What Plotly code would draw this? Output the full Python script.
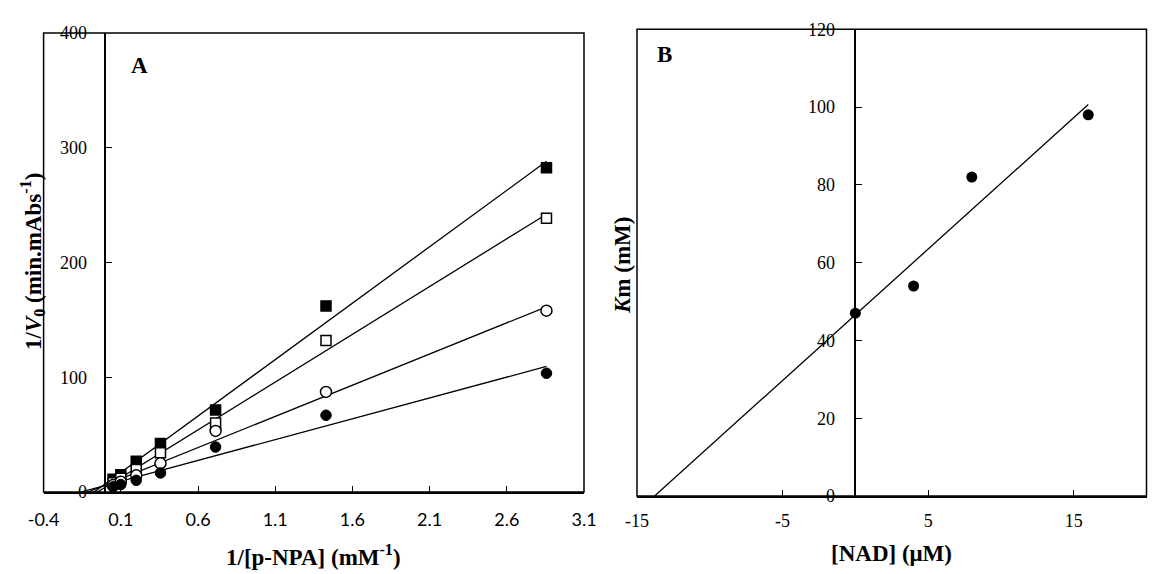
import numpy as np
import plotly.graph_objects as go

# ---------------- Data: panel A (Lineweaver-Burk) ----------------
inv_pnpa = [0.05, 0.1, 0.2, 0.357, 0.714, 1.429, 2.857]
series_filled_square = [11.1, 15.1, 26.8, 42.2, 71.5, 162.2, 282.5]
series_open_square = [8.0, 12.0, 19.5, 34.3, 60.2, 132.0, 238.6]
series_open_circle = [6.0, 9.0, 14.5, 25.0, 53.2, 87.2, 158.0]
series_filled_circle = [4.5, 6.5, 10.2, 16.6, 39.2, 66.9, 103.5]
fit_start_A = -0.16

xticks_A = [-0.4, 0.1, 0.6, 1.1, 1.6, 2.1, 2.6, 3.1]
yticks_A = [0, 100, 200, 300, 400]

# ---------------- Data: panel B (secondary plot) ----------------
nad = [0, 4, 8, 16]
km = [47, 54, 82, 98]
fit_start_B = -14.0

xticks_B = [-15, -5, 5, 15]
yticks_B = [0, 20, 40, 60, 80, 100, 120]

# ---------------- Layout geometry ----------------
W, H = 1163, 574
A_px = dict(l=43.6, r=584.0, t=33.0, b=492.0)
B_px = dict(l=637.0, r=1146.5, t=29.3, b=496.0)
xr_A, yr_A = [-0.4, 3.1], [0, 400]
xr_B, yr_B = [-15, 20], [0, 120]


def dom(p):
    return [p["l"] / W, p["r"] / W], [1 - p["b"] / H, 1 - p["t"] / H]


xdA, ydA = dom(A_px)
xdB, ydB = dom(B_px)
posA = xdA[0] + (0 - xr_A[0]) / (xr_A[1] - xr_A[0]) * (xdA[1] - xdA[0])
posB = xdB[0] + (0 - xr_B[0]) / (xr_B[1] - xr_B[0]) * (xdB[1] - xdB[0])

SERIF = "Liberation Serif"
fig = go.Figure()

markers = [
    (series_filled_square, dict(symbol="square", size=10, color="black",
                                line=dict(color="black", width=1.5))),
    (series_open_square, dict(symbol="square", size=10, color="white",
                              line=dict(color="black", width=1.5))),
    (series_open_circle, dict(symbol="circle", size=11, color="white",
                              line=dict(color="black", width=1.5))),
    (series_filled_circle, dict(symbol="circle", size=10.5, color="black",
                                line=dict(color="black", width=1))),
]

for ys, mk in markers:
    slope, icpt = np.polyfit(inv_pnpa, ys, 1)
    lx = [fit_start_A, max(inv_pnpa)]
    fig.add_trace(go.Scatter(x=lx, y=[slope * v + icpt for v in lx], mode="lines",
                             line=dict(color="black", width=1.3),
                             xaxis="x", yaxis="y", showlegend=False, hoverinfo="skip"))
for ys, mk in markers:
    fig.add_trace(go.Scatter(x=inv_pnpa, y=ys, mode="markers", marker=mk,
                             xaxis="x", yaxis="y", showlegend=False, cliponaxis=False))

slopeB, icptB = np.polyfit(nad, km, 1)
lxB = [fit_start_B, max(nad)]
fig.add_trace(go.Scatter(x=lxB, y=[slopeB * v + icptB for v in lxB], mode="lines",
                         line=dict(color="black", width=1.3),
                         xaxis="x2", yaxis="y2", showlegend=False, hoverinfo="skip"))
fig.add_trace(go.Scatter(x=nad, y=km, mode="markers",
                         marker=dict(symbol="circle", size=11, color="black"),
                         xaxis="x2", yaxis="y2", showlegend=False, cliponaxis=False))

axis_common = dict(showgrid=False, zeroline=False, showline=True, linecolor="black",
                   linewidth=1.5, ticks="inside", ticklen=6, tickwidth=1.3,
                   tickcolor="black", tickmode="array", automargin=False)

fig.update_layout(
    width=W, height=H, margin=dict(l=0, r=0, t=0, b=0, autoexpand=False),
    paper_bgcolor="white", plot_bgcolor="white",
    xaxis=dict(axis_common, domain=xdA, range=xr_A, anchor="y",
               tickvals=xticks_A, ticktext=[f"{v:g}" for v in xticks_A],
               tickfont=dict(family="Lato", size=18, color="black"),
               ticklabelstandoff=11),
    yaxis=dict(axis_common, domain=ydA, range=yr_A, anchor="free", position=posA,
               tickvals=yticks_A, ticktext=[str(v) for v in yticks_A],
               tickfont=dict(family=SERIF, size=18, color="black"),
               ticklabelstandoff=14),
    xaxis2=dict(axis_common, domain=xdB, range=xr_B, anchor="y2",
                tickvals=xticks_B, ticktext=[str(v) for v in xticks_B],
                tickfont=dict(family=SERIF, size=18, color="black"),
                ticklabelstandoff=8),
    yaxis2=dict(axis_common, domain=ydB, range=yr_B, anchor="free", position=posB,
                tickvals=yticks_B, ticktext=[str(v) for v in yticks_B],
                tickfont=dict(family=SERIF, size=18, color="black"),
                ticklabelstandoff=16),
)

# plot-area boxes
for xr, yr in (("x domain", "y domain"), ("x2 domain", "y2 domain")):
    fig.add_shape(type="rect", xref=xr, yref=yr, x0=0, x1=1, y0=0, y1=1,
                  line=dict(color="black", width=1.5), layer="above")

ann_font = dict(family=SERIF, size=23, color="black")
annotations = [
    dict(text="<b>A</b>", x=139.5 / W, y=1 - 65.5 / H, textangle=0),
    dict(text="<b>B</b>", x=664.5 / W, y=1 - 55 / H, textangle=0),
    dict(text="<b>1/[p-NPA] (mM<sup>-1</sup>)</b>", x=(A_px["l"] + A_px["r"]) / 2 / W,
         y=1 - 555 / H, textangle=0),
    dict(text="<b>[NAD] (μM)</b>", x=(B_px["l"] + B_px["r"]) / 2 / W,
         y=1 - 553 / H, textangle=0),
    dict(text="<b>1/<i>V</i><sub>0</sub> (min.mAbs<sup>-1</sup>)</b>", x=32 / W,
         y=1 - 262 / H, textangle=-90),
    dict(text="<b><i>K</i>m (mM)</b>", x=622 / W,
         y=1 - 266 / H, textangle=-90),
]
for a in annotations:
    fig.add_annotation(xref="paper", yref="paper", showarrow=False,
                       xanchor="center", yanchor="middle", font=ann_font, **a)

fig.write_html("out.html",
               config={"displayModeBar": False},
               post_script="document.body.style.margin='0';"
                           "document.body.style.overflow='hidden';")
